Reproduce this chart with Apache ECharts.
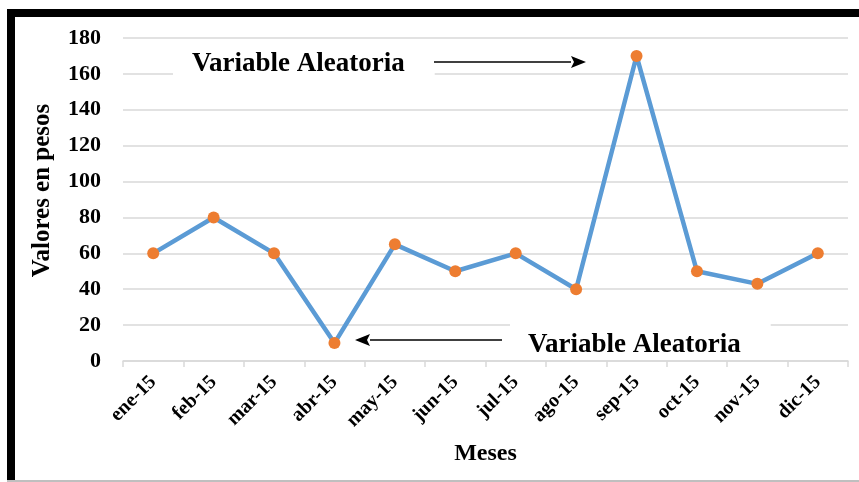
<!DOCTYPE html>
<html>
<head>
<meta charset="utf-8">
<script src="https://cdn.jsdelivr.net/npm/echarts@6/dist/echarts.min.js"></script>
<style>
  html, body { margin: 0; padding: 0; background: #fff; }
  #chart { width: 859px; height: 482px; }
</style>
</head>
<body>
<div id="chart"></div>
<script>
// Monthly values (pesos), 2015
const months = ['ene-15', 'feb-15', 'mar-15', 'abr-15', 'may-15', 'jun-15',
                'jul-15', 'ago-15', 'sep-15', 'oct-15', 'nov-15', 'dic-15'];
const values = [60, 80, 60, 10, 65, 50, 60, 40, 170, 50, 43, 60];
const yTicks = [0, 20, 40, 60, 80, 100, 120, 140, 160, 180];
const noteText = 'Variable Aleatoria';

const serif = 'Liberation Serif';
const chart = echarts.init(document.getElementById('chart'), null, { renderer: 'canvas' });

// Arrow: a shaft plus a filled triangular head pointing to (tipX, y)
function arrow(x1, tipX, y) {
  const dir = tipX > x1 ? 1 : -1;
  const headLen = 15, headHalf = 6;
  const baseX = tipX - dir * headLen;
  return [
    { type: 'line', z: 20, shape: { x1: x1, y1: y, x2: baseX, y2: y },
      style: { stroke: '#000', lineWidth: 1.5 } },
    { type: 'polygon', z: 20,
      shape: { points: [[tipX, y], [baseX, y - headHalf], [baseX + dir * 3, y], [baseX, y + headHalf]] },
      style: { fill: '#000' } }
  ];
}

// Annotation note drawn as a title box with a white background over the gridlines
function note(left, top, padding) {
  return {
    text: noteText,
    left: left, top: top,
    padding: padding,
    backgroundColor: '#fff',
    itemGap: 0,
    textStyle: { fontFamily: serif, fontWeight: 'bold', fontSize: 27, color: '#000', lineHeight: 27 }
  };
}

chart.setOption({
  animation: false,
  backgroundColor: '#fff',
  title: [
    note(173, 46, [5, 30, 3, 19]),
    note(510, 318, [14, 30, 0, 18])
  ],
  grid: { left: 123, right: 11, top: 38, bottom: 121, containLabel: false },
  xAxis: {
    type: 'category',
    data: months,
    boundaryGap: true,
    axisLine: { show: true, lineStyle: { color: '#d9d9d9', width: 1.5 } },
    axisTick: { show: true, alignWithLabel: false, length: 6, lineStyle: { color: '#d9d9d9', width: 1.5 } },
    axisLabel: {
      rotate: 45, margin: 18, interval: 0,
      fontFamily: serif, fontWeight: 'bold', fontSize: 20, color: '#000'
    },
    name: 'Meses',
    nameLocation: 'middle',
    nameGap: 81,
    nameTextStyle: { fontFamily: serif, fontWeight: 'bold', fontSize: 24, color: '#000' }
  },
  yAxis: {
    type: 'value',
    min: yTicks[0],
    max: yTicks[yTicks.length - 1],
    interval: yTicks[1] - yTicks[0],
    axisLine: { show: false },
    axisTick: { show: false },
    splitLine: { lineStyle: { color: '#d9d9d9', width: 1.5 } },
    axisLabel: {
      margin: 22,
      fontFamily: serif, fontWeight: 'bold', fontSize: 22, color: '#000'
    },
    name: 'Valores en pesos',
    nameLocation: 'middle',
    nameGap: 68,
    nameTextStyle: { fontFamily: serif, fontWeight: 'bold', fontSize: 25, color: '#000', padding: [0, 0, 0, 18] }
  },
  series: [{
    type: 'line',
    data: values,
    symbol: 'circle',
    symbolSize: 12,
    lineStyle: { color: '#5B9BD5', width: 4.5 },
    itemStyle: { color: '#ED7D31' },
    z: 5
  }],
  graphic: [
    // frame: thick black top and left edges, thin grey bottom edge
    { type: 'rect', z: 30, shape: { x: 7, y: 9, width: 852, height: 8 }, style: { fill: '#000' } },
    { type: 'rect', z: 30, shape: { x: 7, y: 9, width: 8, height: 473 }, style: { fill: '#000' } },
    { type: 'rect', z: 30, shape: { x: 7, y: 480, width: 852, height: 2 }, style: { fill: '#bfbfbf' } }
  ].concat(arrow(434, 586, 62)).concat(arrow(502, 355, 340))
});
</script>
</body>
</html>
